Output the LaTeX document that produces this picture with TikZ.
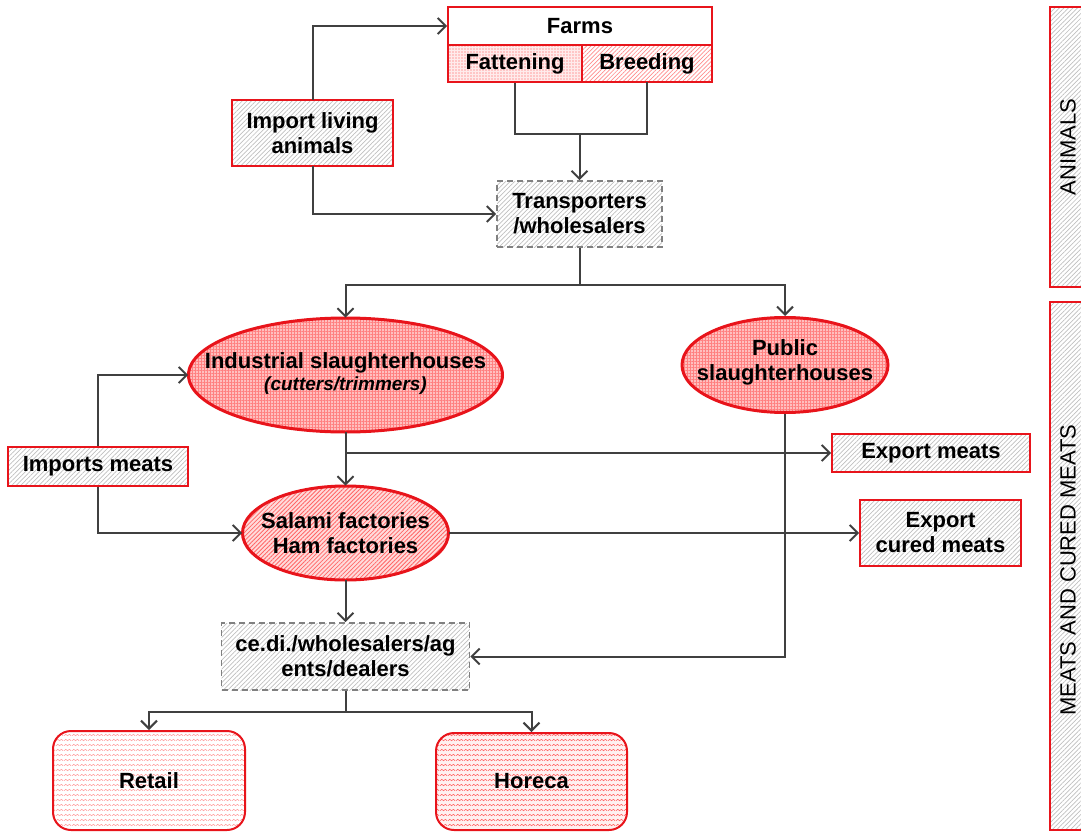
\documentclass[tikz,border=0pt]{standalone}
\usepackage{fontspec}
\setmainfont{Liberation Sans}
\usetikzlibrary{shapes.geometric,arrows.meta,patterns.meta}

\definecolor{lineg}{HTML}{404040}
\definecolor{bred}{HTML}{E8141B}

% small zig-zag texture used for the outlet boxes
\tikzdeclarepattern{
  name=wave,
  type=uncolored,
  bottom left={(0pt,0pt)},
  top right={(8pt,5pt)},
  tile size={(8pt,5pt)},
  code={\draw[line width=0.6pt] (0pt,1.5pt) -- (2pt,3.2pt) -- (4pt,1.5pt) -- (6pt,3.2pt) -- (8pt,1.5pt);}
}

\tikzset{
  conn/.style={draw=lineg, line width=2pt,
    -{Straight Barb[length=8pt,width=16pt,line width=2pt]}},
  link/.style={draw=lineg, line width=2pt},
  txt/.style={font=\fontsize{22}{25}\selectfont\bfseries, align=center, inner sep=0pt},
  greyhatch/.style={pattern={Lines[angle=45,distance=3.2pt,line width=0.7pt]}, pattern color=gray!50},
  redbox/.style={rectangle, draw=bred, line width=1.8pt, greyhatch, txt},
  dashbox/.style={rectangle, draw=gray, dash pattern=on 6pt off 4pt, line width=1.6pt, greyhatch, txt},
  oval/.style={ellipse, draw=bred, line width=3pt, inner sep=0pt},
  gridfill/.style={preaction={fill=red!25},
    pattern={Hatch[angle=0,distance=3pt,line width=0.7pt]}, pattern color=red!50},
  linefill/.style={preaction={fill=red!14},
    pattern={Lines[angle=45,distance=3pt,line width=0.8pt]}, pattern color=red!60},
  outlet/.style={rectangle, rounded corners=18pt, draw=bred, line width=2pt, txt},
  sidebox/.style={draw=bred, line width=1.5pt, greyhatch},
  sidetxt/.style={font=\fontsize{22}{24}\selectfont, rotate=90, inner sep=0pt}
}

\begin{document}
\begin{tikzpicture}[x=1pt,y=-1pt]
\useasboundingbox (0,0) rectangle (1081,832);

% ---- farms block
\node[rectangle, draw=bred, line width=1.8pt, fill=white, txt,
      minimum width=264pt, minimum height=38pt] (farms) at (580,26) {Farms};
\node[rectangle, draw=bred, line width=1.8pt, txt,
      preaction={fill=red!8},
      pattern={Dots[radius=0.7pt,distance=3pt]}, pattern color=red!70,
      minimum width=134pt, minimum height=37pt] (fat) at (515,63.5) {Fattening};
\node[rectangle, draw=bred, line width=1.8pt, txt,
      pattern={Lines[angle=45,distance=3pt,line width=0.7pt]}, pattern color=red!45,
      minimum width=130pt, minimum height=37pt] (bre) at (647,63.5) {Breeding};

\node[redbox, minimum width=161pt, minimum height=66pt] (imp) at (312.5,133) {Import living\\animals};
\node[dashbox, minimum width=165pt, minimum height=66pt] (trans) at (579.5,214) {Transporters\\/wholesalers};

% ---- slaughtering
\node[oval, gridfill, minimum width=314pt, minimum height=114pt] (ind) at (345.5,375) {};
\node[txt] (indtxt) at (345.5,373) {Industrial slaughterhouses\\[-3pt]{\fontsize{19}{21}\selectfont\bfseries\itshape (cutters/trimmers)}};
\node[oval, gridfill, minimum width=206pt, minimum height=95pt] (pub) at (785,365) {};
\node[txt] (pubtxt) at (785,362) {Public\\slaughterhouses};

\node[redbox, minimum width=180pt, minimum height=39pt] (impm) at (98,466.5) {Imports meats};
\node[redbox, minimum width=198pt, minimum height=38pt] (exm) at (931,453) {Export meats};

% ---- processing
\node[oval, linefill, minimum width=206pt, minimum height=94pt] (sal) at (345.5,533) {};
\node[txt] (saltxt) at (345.5,533) {Salami factories\\Ham factories};
\node[redbox, minimum width=161pt, minimum height=66pt] (exc) at (940.5,533) {Export\\cured meats};

\node[dashbox, minimum width=248pt, minimum height=67pt] (cedi) at (345.5,656.5) {ce.di./wholesalers/ag\\ents/dealers};

% ---- outlets
\node[outlet, pattern=wave, pattern color=red!40,
      minimum width=192pt, minimum height=99pt] (ret) at (149,780.5) {Retail};
\node[outlet, preaction={fill=red!6}, pattern=wave, pattern color=red!65,
      minimum width=191pt, minimum height=97pt] (hor) at (531.5,781.5) {Horeca};

% ---- side bands
\draw[sidebox] (1050,7) rectangle (1090,287);
\node[sidetxt] (animals) at (1068,147) {ANIMALS};
\draw[sidebox] (1050,302) rectangle (1090,830);
\node[sidetxt] (meats) at (1068,570) {MEATS AND CURED MEATS};

% ---- connectors
\draw[conn] (imp.north) |- (farms.west);
\draw[conn] (imp.south) |- (trans.west);
\draw[link] (fat.south) -- ++(0,51) coordinate (fj) -| (bre.south);
\draw[conn] (fj -| trans.north) coordinate (fm) -- (trans.north);

\draw[link] (trans.south) -- ++(0,37) coordinate (sp);
\draw[conn] (sp) -| (ind.north);
\draw[conn] (sp) -| (pub.north);

\draw[conn] (impm.north) |- (ind.west);
\draw[conn] (impm.south) |- (sal.west);

\draw[conn] (ind.south) -- (sal.north);
\draw[conn] (ind.south |- exm.west) -- (exm.west);
\draw[conn] (sal.east) -- (exc.west);

\draw[conn] (sal.south) -- (cedi.north);
\draw[conn] (pub.south) |- (cedi.east);

\draw[link] (cedi.south) -- ++(0,21) coordinate (sp2);
\draw[conn] (sp2) -| (ret.north);
\draw[conn] (sp2) -| (hor.north);
\end{tikzpicture}
\end{document}
